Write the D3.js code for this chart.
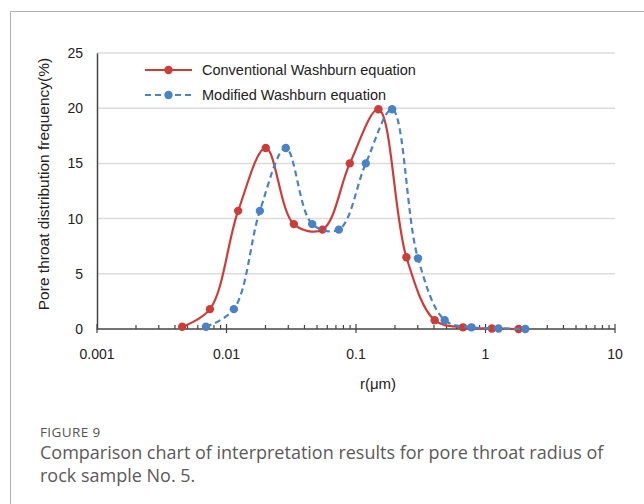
<!DOCTYPE html>
<html><head><meta charset="utf-8">
<script src="https://cdn.jsdelivr.net/npm/d3@7"></script>
<style>body{margin:0;background:#fff;}svg{display:block;}</style>
</head><body>
<svg id="c" width="644" height="504"></svg>
<script>
const convR = [0.00455,0.00745,0.0123,0.0201,0.0331,0.0551,0.0896,0.149,0.245,0.405,0.67,1.12,1.80];
const convV = [0.2,1.8,10.7,16.4,9.5,9.0,15.0,19.9,6.5,0.8,0.15,0.05,0.0];
const modR  = [0.00694,0.0114,0.0181,0.0287,0.0459,0.0737,0.119,0.190,0.301,0.484,0.779,1.26,2.03];
const modV  = [0.2,1.8,10.7,16.4,9.5,9.0,15.0,19.9,6.4,0.8,0.15,0.05,0.0];
const xTicks = [0.001,0.01,0.1,1,10];
const xTickLabels = ["0.001","0.01","0.1","1","10"];
const yTicks = [0,5,10,15,20,25];
const seriesNames = ["Conventional Washburn equation","Modified Washburn equation"];

const svg = d3.select("#c");
const FF = "Liberation Sans, Arial, sans-serif";
// frame
svg.append("path").attr("d","M10.5,504 L10.5,11.5 L644,11.5").attr("fill","none").attr("stroke","#b0b0b0").attr("stroke-width",1);

const x = d3.scaleLog().domain([0.001,10]).range([97,615]);
const y = d3.scaleLinear().domain([0,25]).range([329,53]);

// gridlines
svg.append("g").selectAll("line").data(yTicks.filter(d=>d>0)).join("line")
  .attr("x1",97).attr("x2",615).attr("y1",d=>y(d)).attr("y2",d=>y(d))
  .attr("stroke","#dcdcdc").attr("stroke-width",1.5);

// y axis
const yAx = svg.append("g").attr("transform","translate(97,0)")
  .call(d3.axisLeft(y).tickValues(yTicks).tickSize(0).tickPadding(14));
yAx.select(".domain").attr("stroke","#444").attr("stroke-width",1.5);
yAx.selectAll("text").attr("font-family",FF).attr("font-size",14).attr("fill","#222");

// x axis
const minor = [];
for (let e=-3;e<1;e++){ for(let m=2;m<10;m++) minor.push(m*Math.pow(10,e)); }
svg.append("line").attr("x1",97).attr("x2",615).attr("y1",329).attr("y2",329).attr("stroke","#444").attr("stroke-width",1.5);
svg.append("g").selectAll("line").data(minor).join("line")
  .attr("x1",d=>x(d)).attr("x2",d=>x(d)).attr("y1",329).attr("y2",325).attr("stroke","#444").attr("stroke-width",1.2);
svg.append("g").selectAll("line").data(xTicks).join("line")
  .attr("x1",d=>x(d)).attr("x2",d=>x(d)).attr("y1",324).attr("y2",333).attr("stroke","#444").attr("stroke-width",1.2);
svg.append("g").selectAll("text").data(xTicks).join("text")
  .attr("x",d=>x(d)).attr("y",359).attr("text-anchor","middle")
  .attr("font-family",FF).attr("font-size",14).attr("fill","#222")
  .text((d,i)=>xTickLabels[i]);

// axis titles
svg.append("text").attr("x",378).attr("y",389).attr("text-anchor","middle")
  .attr("font-family",FF).attr("font-size",15).attr("fill","#222").text("r(μm)");
svg.append("text").attr("transform","translate(49,184) rotate(-90)").attr("text-anchor","middle")
  .attr("font-family",FF).attr("font-size",15.5).attr("fill","#222")
  .text("Pore throat distribution frequency(%)");

const colors = ["#cc3d3a","#4a82c6"];
const line = d3.line().x(d=>x(d[0])).y(d=>y(d[1])).curve(d3.curveCatmullRom.alpha(0.5));
const series = [convR.map((r,i)=>[r,convV[i]]), modR.map((r,i)=>[r,modV[i]])];
series.forEach((s,k)=>{
  svg.append("path").datum(s).attr("d",line).attr("fill","none")
    .attr("stroke",colors[k]).attr("stroke-width",2.2)
    .attr("stroke-dasharray",k===1?"6,4":null);
  svg.append("g").selectAll("circle").data(s).join("circle")
    .attr("cx",d=>x(d[0])).attr("cy",d=>y(d[1])).attr("r",4.2).attr("fill",colors[k]);
});

// legend
seriesNames.forEach((n,k)=>{
  const ly = 70 + k*25;
  svg.append("line").attr("x1",145).attr("x2",192).attr("y1",ly).attr("y2",ly)
    .attr("stroke",colors[k]).attr("stroke-width",2.2).attr("stroke-dasharray",k===1?"6,4":null);
  svg.append("circle").attr("cx",168.5).attr("cy",ly).attr("r",4.2).attr("fill",colors[k]);
  svg.append("text").attr("x",202).attr("y",ly+5).attr("font-family",FF)
    .attr("font-size",14.5).attr("fill","#222").text(n);
});

// caption
svg.append("text").attr("x",40).attr("y",437).attr("font-family","Open Sans, sans-serif")
  .attr("font-size",13.5).attr("letter-spacing",0.4).attr("fill","#555").text("FIGURE 9");
svg.append("text").attr("x",40).attr("y",459).attr("font-family","Open Sans, sans-serif")
  .attr("font-size",18).attr("fill","#5a5a5a").text("Comparison chart of interpretation results for pore throat radius of");
svg.append("text").attr("x",40).attr("y",482).attr("font-family","Open Sans, sans-serif")
  .attr("font-size",18).attr("fill","#5a5a5a").text("rock sample No. 5.");
</script>
</body></html>
